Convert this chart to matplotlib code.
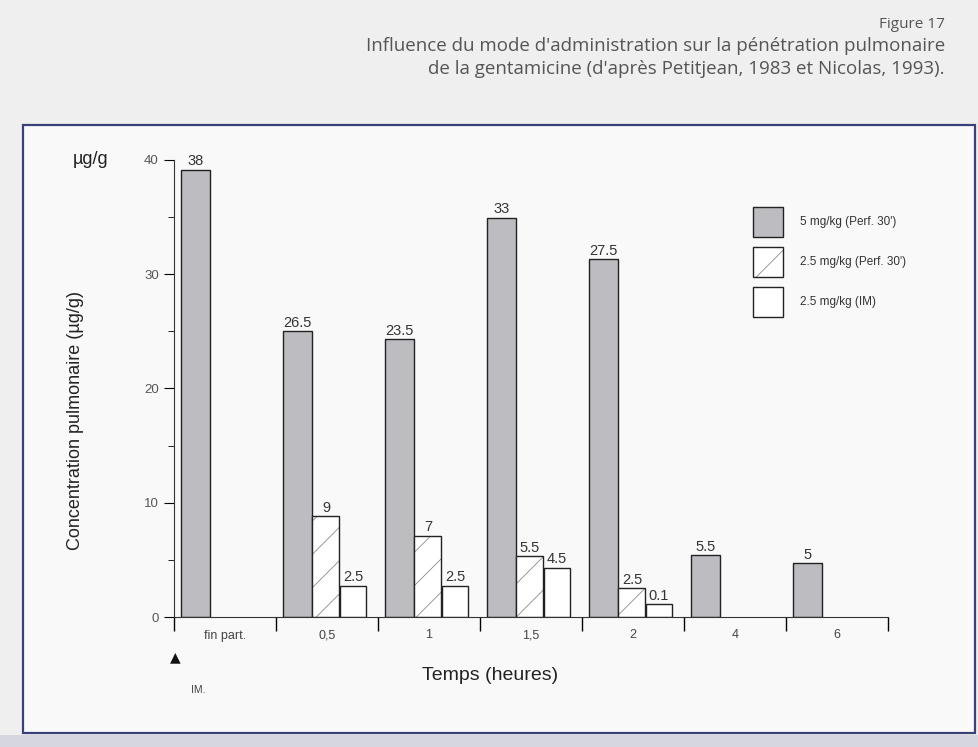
import numpy as np
import matplotlib.pyplot as plt
from matplotlib.patches import Rectangle

plt.rcParams['font.family'] = ['Liberation Sans', 'DejaVu Sans']
plt.rcParams['hatch.linewidth'] = 0.6

# data (bar heights as drawn, labels as printed)
groups = ["fin part.", "0,5", "1", "1,5", "2", "4", "6"]
perf5 = [39.1, 25.0, 24.3, 34.9, 31.3, 5.4, 4.7]
perf25 = [np.nan, 8.8, 7.1, 5.3, 2.5, np.nan, np.nan]
im25 = [np.nan, 2.7, 2.7, 4.3, 1.1, np.nan, np.nan]
perf5_lab = ["38", "26.5", "23.5", "33", "27.5", "5.5", "5"]
perf25_lab = ["", "9", "7", "5.5", "2.5", "", ""]
im25_lab = ["", "2.5", "2.5", "4.5", "0.1", "", ""]
series_names = ["5 mg/kg (Perf. 30')", "2.5 mg/kg (Perf. 30')", "2.5 mg/kg (IM)"]

W, H = 979, 747
fig = plt.figure(figsize=(W / 100, H / 100), dpi=100)
fig.patch.set_facecolor('#efefef')

# scanned page look: frame around the chart
fig.patches.append(Rectangle((0, 0), 1, 12 / H, transform=fig.transFigure,
                             facecolor='#d6d6de', edgecolor='none', zorder=-2))
fig.patches.append(Rectangle((23 / W, 14 / H), 952 / W, 608 / H, transform=fig.transFigure,
                             facecolor='#f9f9f9', edgecolor='#3b3f7a', lw=1.6, zorder=-2))

# title block
tfont = dict(family=['Open Sans', 'DejaVu Sans'], color='#555555', ha='right', va='center')
fig.text(945 / W, 1 - 24 / H, "Figure 17", fontsize=11, **tfont)
fig.text(945 / W, 1 - 46 / H, "Influence du mode d'administration sur la pénétration pulmonaire",
         fontsize=13.5, **tfont)
fig.text(945 / W, 1 - 69 / H, "de la gentamicine (d'après Petitjean, 1983 et Nicolas, 1993).",
         fontsize=13.5, **tfont)

ax = fig.add_axes([174 / W, 130 / H, 714 / W, 468.6 / H])
ax.set_facecolor('none')
ax.set_zorder(2)

x = np.arange(len(groups))
grey = '#bdbdc1'
o5, o25, oim = -0.285, -0.01, 0.255
ax.bar(x + o5, perf5, 0.285, color=grey, edgecolor='#222222', lw=1.0, zorder=2)
ax.bar(x + o25, perf25, 0.265, color='white', edgecolor='#8a8a8a', lw=0, hatch='/', zorder=2)
ax.bar(x + o25, perf25, 0.265, color='none', edgecolor='#222222', lw=1.0, zorder=3)
ax.bar(x + oim, im25, 0.26, color='white', edgecolor='#222222', lw=1.0, zorder=2)

for offs, vals, labs in [(o5, perf5, perf5_lab), (o25, perf25, perf25_lab), (oim, im25, im25_lab)]:
    for xi, v, lab in zip(x, vals, labs):
        if lab:
            ax.text(xi + offs, v + 0.15, lab, ha='center', va='bottom', fontsize=10.5,
                    color='#333333', clip_on=False)

ax.set_xlim(-0.5, 6.5)
ax.set_ylim(0, 41)
ax.spines['top'].set_visible(False)
ax.spines['right'].set_visible(False)
ax.spines['left'].set_bounds(0, 40)
ax.spines['left'].set_color('#333333')
ax.spines['bottom'].set_color('#333333')

ax.set_yticks([0, 10, 20, 30, 40])
ax.set_yticks([5, 15, 25, 35], minor=True)
ax.set_xticks(x)
ax.set_xticklabels(groups)
ax.set_xticks(np.arange(-0.5, 7, 1), minor=True)
ax.tick_params(axis='y', which='major', length=7, pad=4, labelsize=9.5, labelcolor='#555555')
ax.tick_params(axis='y', which='minor', length=4)
ax.tick_params(axis='x', which='major', length=0, pad=9, labelsize=9, labelcolor='#444444')
ax.tick_params(axis='x', which='minor', length=10, width=1)

fig.text(75 / W, 1 - 420 / H, "Concentration pulmonaire (µg/g)", rotation=90,
         ha='center', va='center', fontsize=13, color='#222222')
fig.text(91 / W, 1 - 160 / H, "µg/g", ha='center', va='center', fontsize=13, color='#222222')
fig.text(490 / W, 1 - 675 / H, "Temps (heures)", ha='center', va='center', fontsize=14,
         color='#222222')
fig.text(175 / W, 1 - 657 / H, "▲", ha='center', va='center', fontsize=10,
         family=['DejaVu Sans'], color='#111111')
fig.text(198 / W, 1 - 690 / H, "IM.", ha='center', va='center', fontsize=7.5, color='#444444')

# legend drawn by hand: box 30x30 px, rows about 40 px apart
styles = [dict(facecolor=grey, hatch=None), dict(facecolor='white', hatch='/'),
          dict(facecolor='white', hatch=None)]
for i, (name, st) in enumerate(zip(series_names, styles)):
    top = 207 + i * 40
    if st['hatch']:
        fig.patches.append(Rectangle((753 / W, 1 - (top + 30) / H), 30 / W, 30 / H,
                                     transform=fig.transFigure, facecolor='white',
                                     edgecolor='#8a8a8a', lw=0, hatch='/', zorder=3))
        fig.patches.append(Rectangle((753 / W, 1 - (top + 30) / H), 30 / W, 30 / H,
                                     transform=fig.transFigure, facecolor='none',
                                     edgecolor='#222222', lw=1.0, zorder=3))
    else:
        fig.patches.append(Rectangle((753 / W, 1 - (top + 30) / H), 30 / W, 30 / H,
                                     transform=fig.transFigure, facecolor=st['facecolor'],
                                     edgecolor='#222222', lw=1.0, zorder=3))
    fig.text(800 / W, 1 - (top + 15) / H, name, ha='left', va='center', fontsize=8.5,
             color='#333333', zorder=3)

fig.savefig('out.png', dpi=100, facecolor=fig.get_facecolor())
